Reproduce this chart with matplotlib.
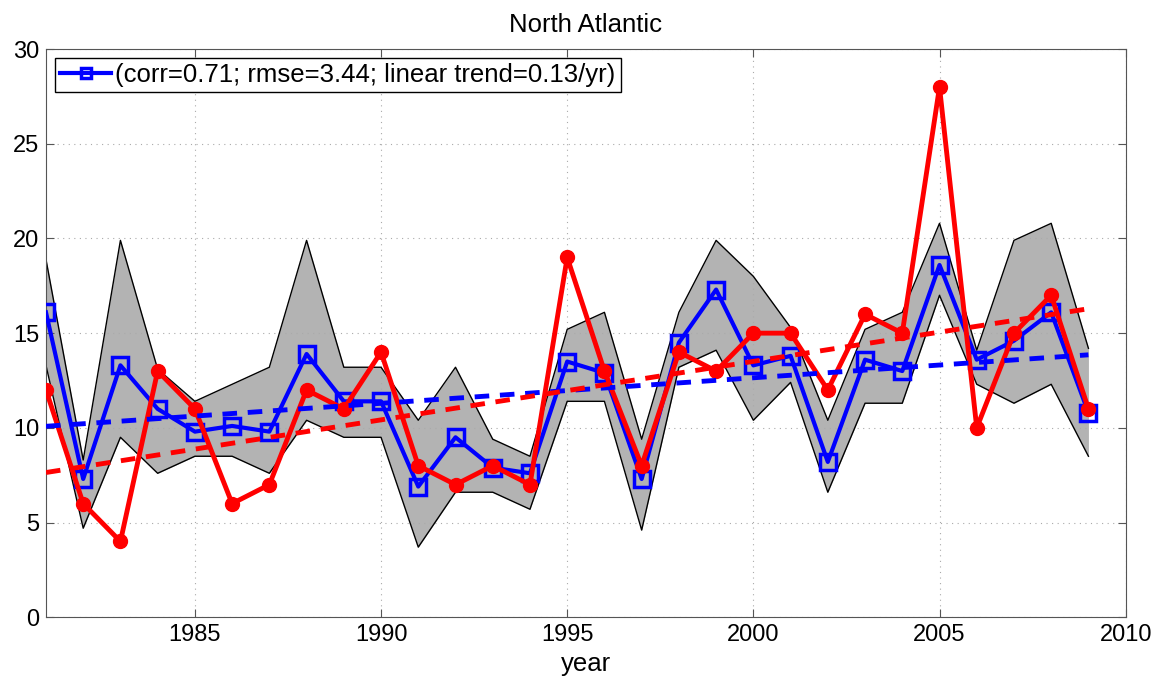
import numpy as np
import matplotlib
matplotlib.use('Agg')
import matplotlib.pyplot as plt

plt.rcParams['font.family'] = ['Liberation Sans', 'DejaVu Sans']

# data
years = np.arange(1981, 2010)
observed = [12, 6, 4, 13, 11, 6, 7, 12, 11, 14, 8, 7, 8, 7, 19,
            13, 8, 14, 13, 15, 15, 12, 16, 15, 28, 10, 15, 17, 11]
model_mean = [16.1, 7.3, 13.3, 11.0, 9.8, 10.1, 9.8, 13.9, 11.4, 11.4, 6.9, 9.5, 7.9, 7.6, 13.5,
              12.9, 7.3, 14.5, 17.3, 13.3, 13.8, 8.2, 13.6, 13.0, 18.6, 13.6, 14.6, 16.1, 10.8]
band_upper = [18.9, 8.3, 19.9, 13.1, 11.4, 12.3, 13.2, 19.9, 13.2, 13.2, 10.4, 13.2, 9.4, 8.5, 15.2,
              16.1, 9.4, 16.1, 19.9, 18.0, 15.3, 10.4, 15.2, 16.1, 20.8, 14.1, 19.9, 20.8, 14.2]
band_lower = [13.3, 4.7, 9.5, 7.6, 8.5, 8.5, 7.6, 10.4, 9.5, 9.5, 3.7, 6.6, 6.6, 5.7, 11.4,
              11.4, 4.6, 13.2, 14.1, 10.4, 12.4, 6.6, 11.3, 11.3, 17.0, 12.3, 11.3, 12.3, 8.5]
legend_label = '(corr=0.71; rmse=3.44; linear trend=0.13/yr)'

fig = plt.figure(figsize=(11.55, 6.82), dpi=100)
ax = fig.add_axes([0.0398, 0.095, 0.9348, 0.833])

ax.fill_between(years, band_lower, band_upper, color='#b3b3b3', lw=0, zorder=1)
ax.plot(years, band_upper, color='black', lw=1, zorder=2)
ax.plot(years, band_lower, color='black', lw=1, zorder=2)

ax.plot(years, model_mean, color='#0000ff', lw=3, marker='s', ms=11, mfc='none',
        mew=2.5, zorder=3, label=legend_label)
ax.plot(years, observed, color='#ff0000', lw=3.5, marker='o', ms=10, zorder=4)

# linear trends of both series
for series, col in [(model_mean, '#0000ff'), (observed, '#ff0000')]:
    slope, icpt = np.polyfit(years, series, 1)
    ax.plot(years, slope * years + icpt, color=col, lw=3.5, ls=(0, (3, 2.2)), zorder=5)

ax.set_xlim(1981, 2010)
ax.set_ylim(0, 30)
ax.set_xticks(np.arange(1985, 2011, 5))
ax.set_yticks(np.arange(0, 31, 5))
ax.tick_params(direction='in', top=True, right=True, labelsize=17, length=6, color='#555555',
               pad=5)
ax.grid(True, ls=(0, (1, 4)), color='#aaaaaa', lw=0.8)
for sp in ax.spines.values():
    sp.set_color('#555555')

ax.set_title('North Atlantic', fontsize=18.5, pad=12)
ax.set_xlabel('year', fontsize=18.5, labelpad=4)

leg = ax.legend(loc='upper left', fontsize=18.5, handlelength=2.0, handletextpad=0.15,
                borderaxespad=0.35, borderpad=0.2, fancybox=False, framealpha=1,
                edgecolor='black', markerscale=0.6)
leg.get_frame().set_linewidth(1)

fig.savefig('out.png', dpi=100)
